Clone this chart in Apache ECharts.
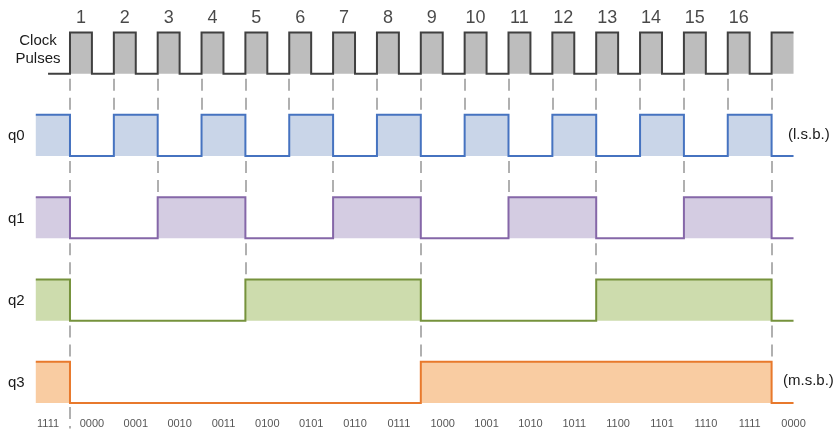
<!DOCTYPE html>
<html><head><meta charset="utf-8">
<script src="https://cdn.jsdelivr.net/npm/echarts@6/dist/echarts.min.js"></script>
<style>html,body{margin:0;padding:0;background:#fff}#c{width:838px;height:431px}</style>
</head><body><div id="c"></div>
<script>
// ---- data ----
const pulseNumbers = ['1','2','3','4','5','6','7','8','9','10','11','12','13','14','15','16'];
const stateLabels = ['1111','0000','0001','0010','0011','0100','0101','0110','0111',
                     '1000','1001','1010','1011','1100','1101','1110','1111','0000'];
// clock level per half clock period, starting half a period before pulse 1 (17 pulses, last one cut)
const clockLevels = [0,
  1,0, 1,0, 1,0, 1,0, 1,0, 1,0, 1,0, 1,0,
  1,0, 1,0, 1,0, 1,0, 1,0, 1,0, 1,0, 1,0,
  1];
// output levels per clock interval (before pulse 1, after pulse 1, ..., after pulse 17)
const q0 = [1,0,1,0,1,0,1,0,1,0,1,0,1,0,1,0,1,0];
const q1 = [1,0,0,1,1,0,0,1,1,0,0,1,1,0,0,1,1,0];
const q2 = [1,0,0,0,0,1,1,1,1,0,0,0,0,1,1,1,1,0];
const q3 = [1,0,0,0,0,0,0,0,0,1,1,1,1,1,1,1,1,0];
// clock edges (pulse index) at which dashed guide lines are drawn below each row
const dashBelowClock = [1,2,3,4,5,6,7,8,9,10,11,12,13,14,15,16,17];
const dashBelowQ0 = [1,3,5,7,9,11,13,15,17];
const dashBelowQ1 = [1,5,9,13,17];
const dashBelowQ2 = [1,9,17];
const dashBelowQ3 = [1];

// ---- build ----
const FONT = "'Liberation Sans', Arial, sans-serif";
const sigStart = 0.22, sigEnd = 17.5;

function qSegments(levels){
  return levels.map((v,i)=>[i===0?sigStart:i, i===levels.length-1?sigEnd:i+1, v]);
}
function clockSegments(levels){
  return levels.map((v,j)=>[0.5+0.5*j, 1+0.5*j, v]);
}
function wave(segs, base, color, fill){
  const data=[];
  segs.forEach(s=>{data.push([s[0], base+s[2]]); data.push([s[1], base+s[2]]);});
  return {type:'line', data, symbol:'none', silent:true, z:3,
    lineStyle:{color, width:2, join:'miter'},
    areaStyle:{color:fill, opacity:1, origin:base}};
}
function dashes(edges, y1, y2){
  return {type:'lines', coordinateSystem:'cartesian2d', silent:true, z:2,
    lineStyle:{color:'#b0b0b0', width:2, type:[12,7], opacity:1},
    data: edges.map(t=>({coords:[[t,y1],[t,y2]]}))};
}

const series = [
  wave(clockSegments(clockLevels), 8, '#404040', '#bdbdbd'),
  wave(qSegments(q0), 6, '#4673c0', '#c9d5e8'),
  wave(qSegments(q1), 4, '#8567a8', '#d4cce2'),
  wave(qSegments(q2), 2, '#76923c', '#cddcad'),
  wave(qSegments(q3), 0, '#e8792c', '#f9cca2'),
  dashes(dashBelowClock, 7.88, 7.12),
  dashes(dashBelowQ0, 5.88, 5.12),
  dashes(dashBelowQ1, 3.88, 3.12),
  dashes(dashBelowQ2, 1.88, 1.12),
  dashes(dashBelowQ3, -0.1, -0.62),
  {type:'scatter', symbolSize:0, clip:false, silent:true,
    data: pulseNumbers.map((n,i)=>({name:n, value:[i+1.25, 9.35]})),
    label:{show:true, position:'inside', formatter:'{b}', color:'#1a1a1a', fontSize:18, fontFamily:FONT}},
  {type:'scatter', symbolSize:0, clip:false, silent:true,
    data: stateLabels.map((n,i)=>({name:n, value:[i+0.5, -0.5]})),
    label:{show:true, position:'inside', formatter:'{b}', color:'#2a2a2a', fontSize:11, fontFamily:FONT}}
];

const chart = echarts.init(document.getElementById('c'));
chart.setOption({
  animation:false,
  grid:{left:0,right:0,top:0,bottom:0},
  xAxis:{type:'value', min:-0.596, max:18.514, show:false},
  yAxis:{type:'value', min:-0.68, max:9.79, show:false},
  series,
  graphic:[
    {type:'text', x:38, y:41, style:{text:'Clock', textAlign:'center', textVerticalAlign:'middle', fill:'#1a1a1a', font:'15px '+FONT}},
    {type:'text', x:38, y:59, style:{text:'Pulses', textAlign:'center', textVerticalAlign:'middle', fill:'#1a1a1a', font:'15px '+FONT}},
    {type:'text', x:8, y:136, style:{text:'q0', textAlign:'left', textVerticalAlign:'middle', fill:'#1a1a1a', font:'15px '+FONT}},
    {type:'text', x:8, y:219, style:{text:'q1', textAlign:'left', textVerticalAlign:'middle', fill:'#1a1a1a', font:'15px '+FONT}},
    {type:'text', x:8, y:301, style:{text:'q2', textAlign:'left', textVerticalAlign:'middle', fill:'#1a1a1a', font:'15px '+FONT}},
    {type:'text', x:8, y:383, style:{text:'q3', textAlign:'left', textVerticalAlign:'middle', fill:'#1a1a1a', font:'15px '+FONT}},
    {type:'text', x:788, y:135, style:{text:'(l.s.b.)', textAlign:'left', textVerticalAlign:'middle', fill:'#1a1a1a', font:'15px '+FONT}},
    {type:'text', x:783, y:381, style:{text:'(m.s.b.)', textAlign:'left', textVerticalAlign:'middle', fill:'#1a1a1a', font:'15px '+FONT}}
  ]
});
</script></body></html>
